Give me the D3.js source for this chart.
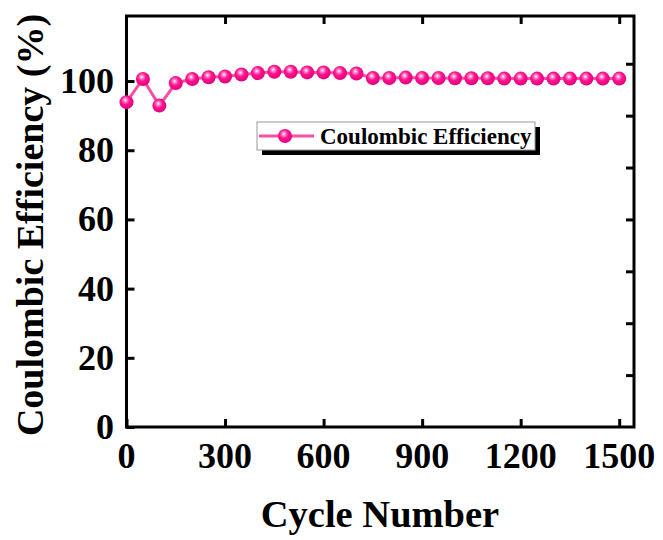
<!DOCTYPE html>
<html><head><meta charset="utf-8">
<script src="https://cdn.jsdelivr.net/npm/d3@7"></script>
<style>body{margin:0;background:#fff;}svg{display:block;font-family:"Liberation Serif","Times New Roman",serif;font-weight:bold;}</style>
</head><body>
<script>
const cycles = [0,50,100,150,200,250,300,350,400,450,500,550,600,650,700,750,800,850,900,950,1000,1050,1100,1150,1200,1250,1300,1350,1400,1450,1500];
const efficiency = [93.9,100.6,92.9,99.4,100.6,101.1,101.3,101.9,102.3,102.7,102.7,102.5,102.5,102.3,102.2,100.9,100.9,101.0,100.9,100.9,100.8,100.8,100.8,100.7,100.7,100.7,100.7,100.7,100.7,100.7,100.7];
const xTicks = [0,300,600,900,1200,1500];
const yTicks = [0,20,40,60,80,100];
const yRightTicks = [15,30,45,60,75,90,105];
const seriesName = "Coulombic Efficiency";
const xTitle = "Cycle Number";
const yTitle = "Coulombic Efficiency (%)";

const W = 663, H = 540;
const L = 126.5, R = 634, T = 16, B = 427;
const svg = d3.select("body").append("svg").attr("width", W).attr("height", H);
const x = d3.scaleLinear().domain([0,1545]).range([L,R]);
const y = d3.scaleLinear().domain([0,118.8]).range([B,T]);

const defs = svg.append("defs");
const g = defs.append("radialGradient").attr("id","ball").attr("cx","42%").attr("cy","38%").attr("r","60%").attr("fx","42%").attr("fy","35%");
g.append("stop").attr("offset","0%").attr("stop-color","#ffffff");
g.append("stop").attr("offset","20%").attr("stop-color","#ff8cc4");
g.append("stop").attr("offset","50%").attr("stop-color","#ff1493");
g.append("stop").attr("offset","100%").attr("stop-color","#e6007a");

const tickLen = 8;
function styleAxis(s){ s.select(".domain").remove(); s.selectAll("line").attr("stroke","#000").attr("stroke-width",3); }
svg.append("g").attr("transform",`translate(0,${B})`)
  .call(d3.axisBottom(x).tickValues(xTicks).tickSize(-tickLen).tickFormat("")).call(styleAxis);
svg.append("g").attr("transform",`translate(0,${T})`)
  .call(d3.axisTop(x).tickValues(xTicks.slice(1)).tickSize(-tickLen).tickFormat("")).call(styleAxis);
svg.append("g").attr("transform",`translate(${L},0)`)
  .call(d3.axisLeft(y).tickValues(yTicks).tickSize(-tickLen).tickFormat("")).call(styleAxis);
svg.append("g").attr("transform",`translate(${R},0)`)
  .call(d3.axisRight(y).tickValues(yRightTicks).tickSize(-tickLen).tickFormat("")).call(styleAxis);

svg.append("rect").attr("x",L).attr("y",T).attr("width",R-L).attr("height",B-T)
  .attr("fill","none").attr("stroke","#000").attr("stroke-width",3);

svg.append("g").selectAll("text").data(xTicks).join("text")
  .attr("x",d=>x(d)).attr("y",468).attr("text-anchor","middle")
  .attr("font-size",36).text(d=>d);
svg.append("g").selectAll("text").data(yTicks).join("text")
  .attr("x",114).attr("y",d=>y(d)+12).attr("text-anchor","end")
  .attr("font-size",36).text(d=>d);

svg.append("text").attr("x",380).attr("y",527).attr("text-anchor","middle").attr("font-size",38.5).text(xTitle);
svg.append("text").attr("transform","translate(43,225) rotate(-90)").attr("text-anchor","middle").attr("font-size",38).text(yTitle);

const line = d3.line().x((d,i)=>x(cycles[i])).y(d=>y(d));
svg.append("path").datum(efficiency).attr("d",line).attr("fill","none").attr("stroke","#f550a5").attr("stroke-width",3);
svg.append("g").selectAll("circle").data(efficiency).join("circle")
  .attr("cx",(d,i)=>x(cycles[i])).attr("cy",d=>y(d)).attr("r",7).attr("fill","url(#ball)");

const lx = 257, ly = 122, lw = 278, lh = 28;
svg.append("rect").attr("x",lx+5).attr("y",ly+5).attr("width",lw).attr("height",lh).attr("fill","#000");
svg.append("rect").attr("x",lx).attr("y",ly).attr("width",lw).attr("height",lh).attr("fill","#fff").attr("stroke","#999").attr("stroke-width",1);
svg.append("line").attr("x1",lx+2).attr("x2",lx+57).attr("y1",ly+14).attr("y2",ly+14).attr("stroke","#f550a5").attr("stroke-width",3);
svg.append("circle").attr("cx",lx+28).attr("cy",ly+14).attr("r",7).attr("fill","url(#ball)");
svg.append("text").attr("x",lx+63).attr("y",ly+22).attr("font-size",23).text(seriesName);
</script>
</body></html>
